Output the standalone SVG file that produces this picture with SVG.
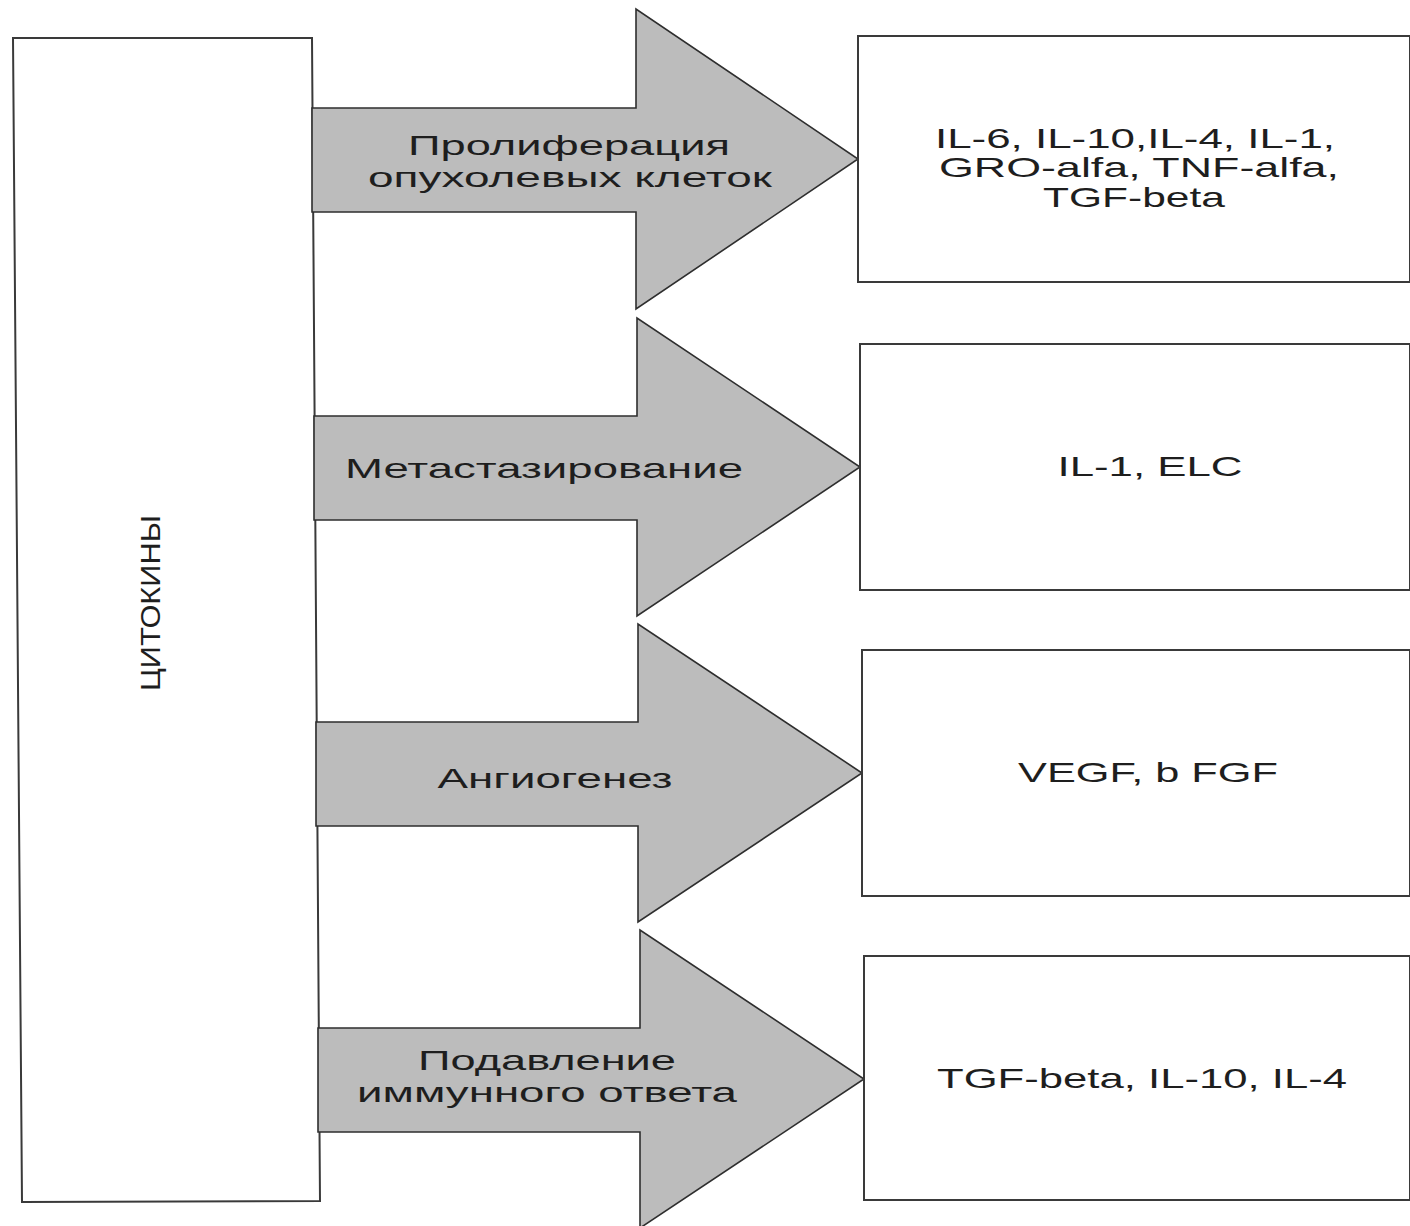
<svg xmlns="http://www.w3.org/2000/svg" width="1410" height="1226" viewBox="0 0 1410 1226">
<style>
.box{fill:#ffffff;stroke:#3a3a3a;stroke-width:2}
.arrow{fill:#bcbcbc;stroke:#2e2e2e;stroke-width:1.6;stroke-linejoin:miter}
.t{font-family:"Liberation Sans",Arial,sans-serif;font-size:28px;fill:#1e1e1e;text-anchor:middle}
</style>
<rect width="1410" height="1226" fill="#ffffff"/>
<g id="cytokines">
<polygon class="box" points="13,38 312,38 320,1201 22,1202"/>
<text class="t" transform="translate(160,603) rotate(-90)" textLength="176" lengthAdjust="spacingAndGlyphs">ЦИТОКИНЫ</text>
</g>
<g id="connectors">
<g id="arrow1">
<polygon class="arrow" points="312,108 636,108 636,9 858,159 636,309 636,212 312,212"/>
<text class="t" x="569" y="155" textLength="322" lengthAdjust="spacingAndGlyphs">Пролиферация</text>
<text class="t" x="570" y="187" textLength="404" lengthAdjust="spacingAndGlyphs">опухолевых клеток</text>
</g>
<g id="arrow2">
<polygon class="arrow" points="314,416 637,416 637,318 860,467 637,616 637,520 314,520"/>
<text class="t" x="544" y="478" textLength="398" lengthAdjust="spacingAndGlyphs">Метастазирование</text>
</g>
<g id="arrow3">
<polygon class="arrow" points="316,722 638,722 638,624 862,773 638,922 638,826 316,826"/>
<text class="t" x="555" y="788" textLength="235" lengthAdjust="spacingAndGlyphs">Ангиогенез</text>
</g>
<g id="arrow4">
<polygon class="arrow" points="318,1028 640,1028 640,930 864,1079 640,1228 640,1132 318,1132"/>
<text class="t" x="547" y="1070" textLength="258" lengthAdjust="spacingAndGlyphs">Подавление</text>
<text class="t" x="547" y="1102" textLength="380" lengthAdjust="spacingAndGlyphs">иммунного ответа</text>
</g>
</g>
<g id="box1">
<rect class="box" x="858" y="36" width="552" height="246"/>
<text class="t" x="1135" y="148" textLength="400" lengthAdjust="spacingAndGlyphs">IL-6, IL-10,IL-4, IL-1,</text>
<text class="t" x="1139" y="177" textLength="400" lengthAdjust="spacingAndGlyphs">GRO-alfa, TNF-alfa,</text>
<text class="t" x="1134" y="207" textLength="182" lengthAdjust="spacingAndGlyphs">TGF-beta</text>
</g>
<g id="box2">
<rect class="box" x="860" y="344" width="550" height="246"/>
<text class="t" x="1150" y="476" textLength="185" lengthAdjust="spacingAndGlyphs">IL-1, ELC</text>
</g>
<g id="box3">
<rect class="box" x="862" y="650" width="548" height="246"/>
<text class="t" x="1148" y="782" textLength="260" lengthAdjust="spacingAndGlyphs">VEGF, b FGF</text>
</g>
<g id="box4">
<rect class="box" x="864" y="956" width="546" height="244"/>
<text class="t" x="1142" y="1088" textLength="410" lengthAdjust="spacingAndGlyphs">TGF-beta, IL-10, IL-4</text>
</g>
</svg>
